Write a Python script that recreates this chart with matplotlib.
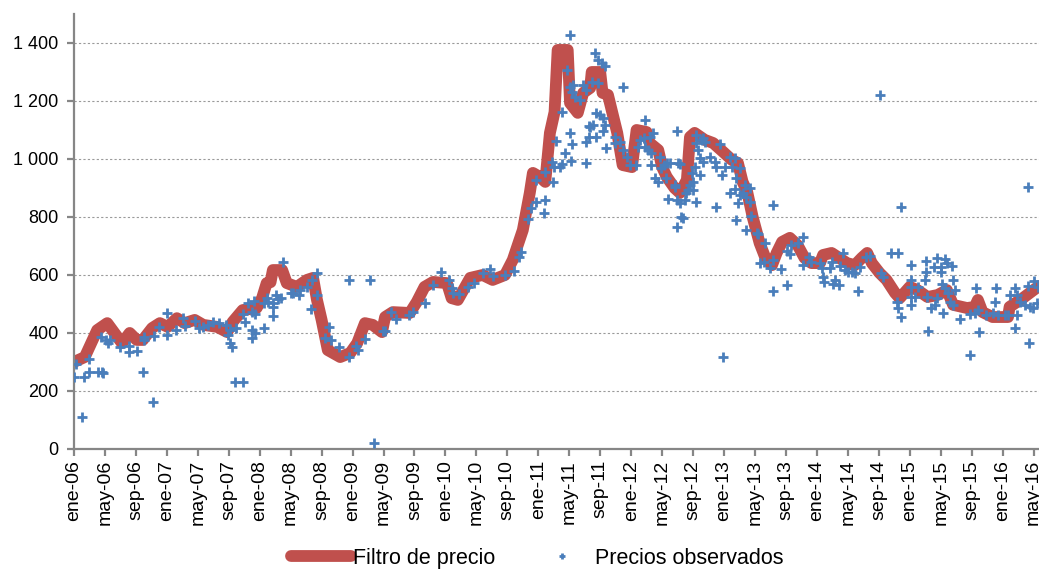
import numpy as np
import matplotlib.pyplot as plt
from matplotlib.ticker import FuncFormatter

plt.rcParams['font.family'] = ['Liberation Sans', 'DejaVu Sans']

# months since jan-2006
tick_labels = ['ene-06', 'may-06', 'sep-06', 'ene-07', 'may-07', 'sep-07', 'ene-08', 'may-08',
               'sep-08', 'ene-09', 'may-09', 'sep-09', 'ene-10', 'may-10', 'sep-10', 'ene-11',
               'may-11', 'sep-11', 'ene-12', 'may-12', 'sep-12', 'ene-13', 'may-13', 'sep-13',
               'ene-14', 'may-14', 'sep-14', 'ene-15', 'may-15', 'sep-15', 'ene-16', 'may-16']
tick_pos = np.arange(len(tick_labels)) * 4

# price filter (thick red line)
filt_t = [0.0, 1.4, 3.0, 4.3, 6.2, 7.2, 8.1, 8.9, 10.1, 11.1, 12.1, 13.3, 14.3, 15.6, 16.7, 18.5,
          19.8, 20.5, 21.8, 23.6, 24.3, 24.9, 25.4, 25.7, 26.9, 27.5, 28.8, 30.1, 30.9, 31.4, 32.0,
          32.8, 34.4, 35.7, 36.6, 37.6, 38.6, 39.8, 40.2, 41.2, 43.4, 44.3, 45.3, 46.4, 48.2, 48.8,
          49.6, 51.2, 52.8, 54.1, 55.7, 56.7, 58.0, 58.9, 59.3, 60.2, 60.9, 61.5, 62.1, 62.5, 63.8,
          64.1, 65.1, 65.8, 66.7, 66.9, 68.0, 68.3, 69.0, 70.2, 70.9, 72.1, 72.7, 74.0, 74.4, 75.5,
          76.0, 76.6, 77.6, 78.3, 79.2, 79.6, 80.2, 81.5, 82.6, 83.9, 85.0, 85.8, 86.4, 87.0, 87.7,
          88.6, 89.3, 90.2, 90.8, 91.5, 92.5, 93.5, 94.4, 95.3, 96.4, 96.8, 97.9, 98.7, 99.9, 100.9,
          101.8, 102.5, 103.1, 104.1, 105.0, 106.1, 106.7, 108.0, 109.0, 110.3, 111.6, 112.8, 113.6,
          115.4, 116.4, 116.8, 117.4, 118.7, 120.7, 120.9, 122.6, 124.7]
filt_v = [300, 317, 410, 434, 365, 400, 376, 376, 417, 434, 421, 451, 434, 445, 428, 421,
          403, 438, 479, 486, 520, 572, 575, 617, 617, 572, 559, 583, 590, 514, 445,
          341, 317, 331, 365, 434, 428, 403, 455, 472, 469, 507, 559, 576, 572, 520,
          514, 590, 600, 583, 600, 652, 755, 883, 952, 938, 921, 1090, 1162, 1376, 1376,
          1193, 1159, 1228, 1245, 1300, 1300, 1228, 1221, 1090, 979, 972, 1100, 1093, 1055, 1031,
          972, 938, 900, 883, 928, 1076, 1090, 1066, 1055, 1024, 997, 986, 921, 886, 800,
          710, 662, 634, 676, 714, 728, 703, 659, 641, 641, 669, 676, 662, 641, 634,
          659, 676, 641, 607, 583, 538, 520, 559, 548, 524, 531, 548, 497,
          486, 490, 514, 472, 455, 455, 490, 520, 562]

# observed prices (blue crosses)
obs_t = [0.0, 0.3, 1.1, 1.3, 2.0, 2.0, 3.1, 3.6, 3.8, 3.5, 4.2, 4.4, 4.7, 6.0, 7.1, 7.1, 8.1, 8.9,
         9.0, 9.0, 10.2, 10.4, 11.0, 12.0, 12.0, 13.2, 14.1, 14.3, 15.6, 16.2, 16.7, 17.3, 18.0,
         18.8, 19.6, 19.9, 20.2, 20.4, 20.1, 20.8, 21.9, 21.0, 21.9, 22.1, 22.5,
         23.0, 23.0, 23.0, 23.4, 23.3, 23.4, 24.5, 24.5, 24.9, 25.1, 25.7, 25.7, 25.7, 26.1, 26.4,
         26.8, 27.0, 28.1, 28.3, 29.1, 29.2, 30.1, 30.7, 31.4, 31.4, 30.6, 32.9, 32.4, 33.2, 34.3,
         35.6, 35.6, 36.5, 36.7, 37.6, 38.2, 38.8, 39.9, 40.2, 41.0, 41.6, 43.3, 43.8,
         45.3, 46.4, 47.4, 48.5, 48.8, 49.0, 49.8, 50.9, 51.7, 52.9, 53.7, 54.1, 55.7, 56.8, 57.5,
         57.8, 58.7, 59.1, 59.7, 59.7, 60.8, 60.9, 60.9, 61.9, 61.8, 62.0, 62.3, 62.8, 63.0, 63.0,
         63.4, 63.7, 64.1, 64.1, 64.2, 64.4, 64.1, 64.5, 64.3, 64.7, 65.4, 65.8, 66.2, 66.1, 66.2,
         66.6, 66.5,
         67.3, 67.7, 68.2, 68.6, 66.9, 67.7, 67.5, 68.0, 68.4, 68.6, 66.7, 67.1, 67.5, 68.4, 68.8,
         71.0, 69.9, 70.5, 71.0, 71.4, 71.8, 72.6, 72.9, 73.6, 73.8, 74.4, 74.8, 73.8, 74.6, 74.6,
         75.1, 75.5, 75.7, 75.9, 76.6, 77.0, 77.9, 76.8, 77.6, 77.9, 77.9, 78.1, 69.9, 73.1, 74.2,
         76.3, 76.5,
         77.6, 78.3, 78.5, 78.7, 78.3, 78.9, 79.1, 79.4, 79.6, 79.8, 80.0, 80.0, 80.4, 80.2, 80.4,
         80.7, 80.4, 80.9, 80.9, 81.1, 81.3, 81.6, 81.3, 82.2, 82.8, 83.0, 83.0, 83.5, 83.7, 83.9,
         84.1, 84.8, 85.0, 85.4, 85.6, 86.0, 84.8, 85.4, 85.6, 85.8, 86.0, 86.5, 86.7, 86.9, 87.3,
         87.3, 86.9, 87.5, 88.2, 88.6,
         88.4, 89.3, 89.1, 89.9, 90.3, 90.3, 90.3, 91.3, 92.2, 92.1, 92.5, 92.7, 93.6, 94.2, 94.2,
         95.0, 95.3, 96.4, 96.6, 96.8, 96.9, 97.7, 97.9, 98.3, 98.1, 98.8, 99.4, 99.0, 99.6, 100.0,
         100.5, 100.9, 101.3, 101.6, 102.4, 102.8, 104.1, 104.3, 104.6, 105.6, 106.5, 106.5, 106.3,
         106.9,
         106.9, 108.1, 108.2, 108.1, 108.1, 108.2, 108.7, 109.1, 110.1, 110.1, 110.0, 110.2, 110.4,
         110.8, 111.1, 111.5, 111.3, 111.5, 112.1, 112.1, 112.2, 112.5, 112.3, 112.8, 112.5, 112.9,
         113.5, 113.6, 113.2, 113.6, 113.8, 114.5, 115.8, 115.8, 116.5, 116.8, 117.0, 116.4, 117.9,
         118.7, 119.1, 119.0, 119.4, 120.3, 120.7, 120.9, 121.6, 121.6, 121.8, 121.8, 122.3, 122.9,
         123.3, 123.4, 123.3, 123.5, 124.0, 123.9, 124.6, 124.4]
obs_v = [247, 293, 111, 247, 309, 267, 267, 267, 263, 387, 376, 364, 376, 353, 355, 336, 339, 267,
         387, 376, 163, 390, 420, 468, 393, 410, 451, 424, 442, 416, 422, 428, 439,
         433, 428, 393, 364, 351, 410, 232, 232, 416, 466, 439, 502,
         473, 410, 382, 399, 511, 466, 416, 502, 520, 508, 502, 459, 491, 531, 516,
         520, 646, 539, 537, 531, 548, 560, 583, 606, 531, 482, 422, 382, 376, 353,
         316, 583, 355, 341, 378, 583, 20, 408, 408, 473, 447, 462, 473,
         502, 566, 611, 583, 554, 539, 534, 557, 571, 606, 619, 597, 600, 615, 661,
         680, 792, 830, 853, 928, 815, 859, 956, 922, 991, 974, 1063, 974, 983, 1163,
         1020, 1307, 1428, 1091, 994, 1052, 1249, 1255, 1232, 1215, 1203, 1255, 1238, 1060, 987,
         1114, 1077,
         1367, 1341, 1332, 1321, 1267, 1261, 1157, 1152, 1140, 1117, 1112, 1117, 1077, 1095, 1037,
         1249, 1077, 1060, 1031, 1008, 979, 979, 1042, 1071, 1134, 1077, 1088, 1042, 1020, 979,
         933, 922, 1008, 968, 985, 985, 1098, 861, 904, 859, 767, 985, 1054, 1066, 1031,
         979, 933,
         910, 847, 801, 795, 983, 859, 882, 893, 910, 953, 922, 893, 853, 974, 1054,
         1031, 1083, 1002, 945, 1066, 1071, 1060, 991, 1008, 991, 836, 974, 1050, 945, 318,
         974, 1008, 974, 1002, 933, 968, 882, 895, 790, 847, 876, 882, 910, 870, 899,
         853, 755, 803, 744, 640,
         741, 711, 646, 623, 652, 841, 546, 621, 566, 684, 672, 703, 709, 732, 634,
         663, 646, 640, 623, 594, 575, 623, 646, 583, 569, 566, 675, 631, 617, 611,
         611, 606, 546, 629, 663, 666, 1221, 606, 594, 677, 677, 485, 508,
         836,
         454, 634, 583, 560, 497, 525, 525, 560, 649, 611, 583, 525, 408,
         485, 627, 657, 497, 520, 629, 611, 569, 654, 470, 640, 554, 537,
         631, 583, 508, 497, 548, 447, 324, 466, 554, 479, 404, 468, 462,
         468, 554, 508, 462, 462, 462, 531, 554, 416, 531, 462, 508, 497,
         905, 367, 562, 491, 580, 485, 560, 502]

red = '#C0504D'
blue = '#4A7EBB'
axis_grey = '#868686'

fig = plt.figure(figsize=(10.39, 5.71), dpi=100)
ax = fig.add_axes([0.0712, 0.2137, 0.9288, 0.7618])

ax.plot(filt_t, filt_v, color=red, lw=8.5, solid_joinstyle='round',
        solid_capstyle='round', label='Filtro de precio', zorder=2)
ax.plot(obs_t, obs_v, ls='none', marker='+', ms=7.5, mew=2, color=blue,
        label='Precios observados', zorder=3)

ax.set_xlim(0, 124.7)
ax.set_ylim(0, 1500)
ax.set_yticks(np.arange(0, 1401, 200))
ax.yaxis.set_major_formatter(FuncFormatter(lambda v, p: f'{int(v):,}'.replace(',', ' ')))
ax.set_xticks(tick_pos)
ax.set_xticklabels(tick_labels, rotation=90)

for y in range(200, 1401, 200):
    ax.axhline(y, color='#9A9A9A', lw=0.8, ls=(0, (2, 2)), zorder=1)

for s in ['top', 'right']:
    ax.spines[s].set_visible(False)
for s in ['left', 'bottom']:
    ax.spines[s].set_color(axis_grey)
    ax.spines[s].set_linewidth(1.6)
ax.tick_params(axis='both', colors=axis_grey, length=5, width=1.6, direction='out')
ax.tick_params(axis='y', labelcolor='black', labelsize=13, pad=6)
ax.tick_params(axis='x', labelcolor='black', labelsize=14, pad=3)

fig.legend(loc='center', bbox_to_anchor=(0.517, 0.022), ncol=2, frameon=False,
           fontsize=15.5, handlelength=2.8, handletextpad=0.1, columnspacing=1.7,
           markerscale=0.6)

fig.savefig('out.png', dpi=100)
